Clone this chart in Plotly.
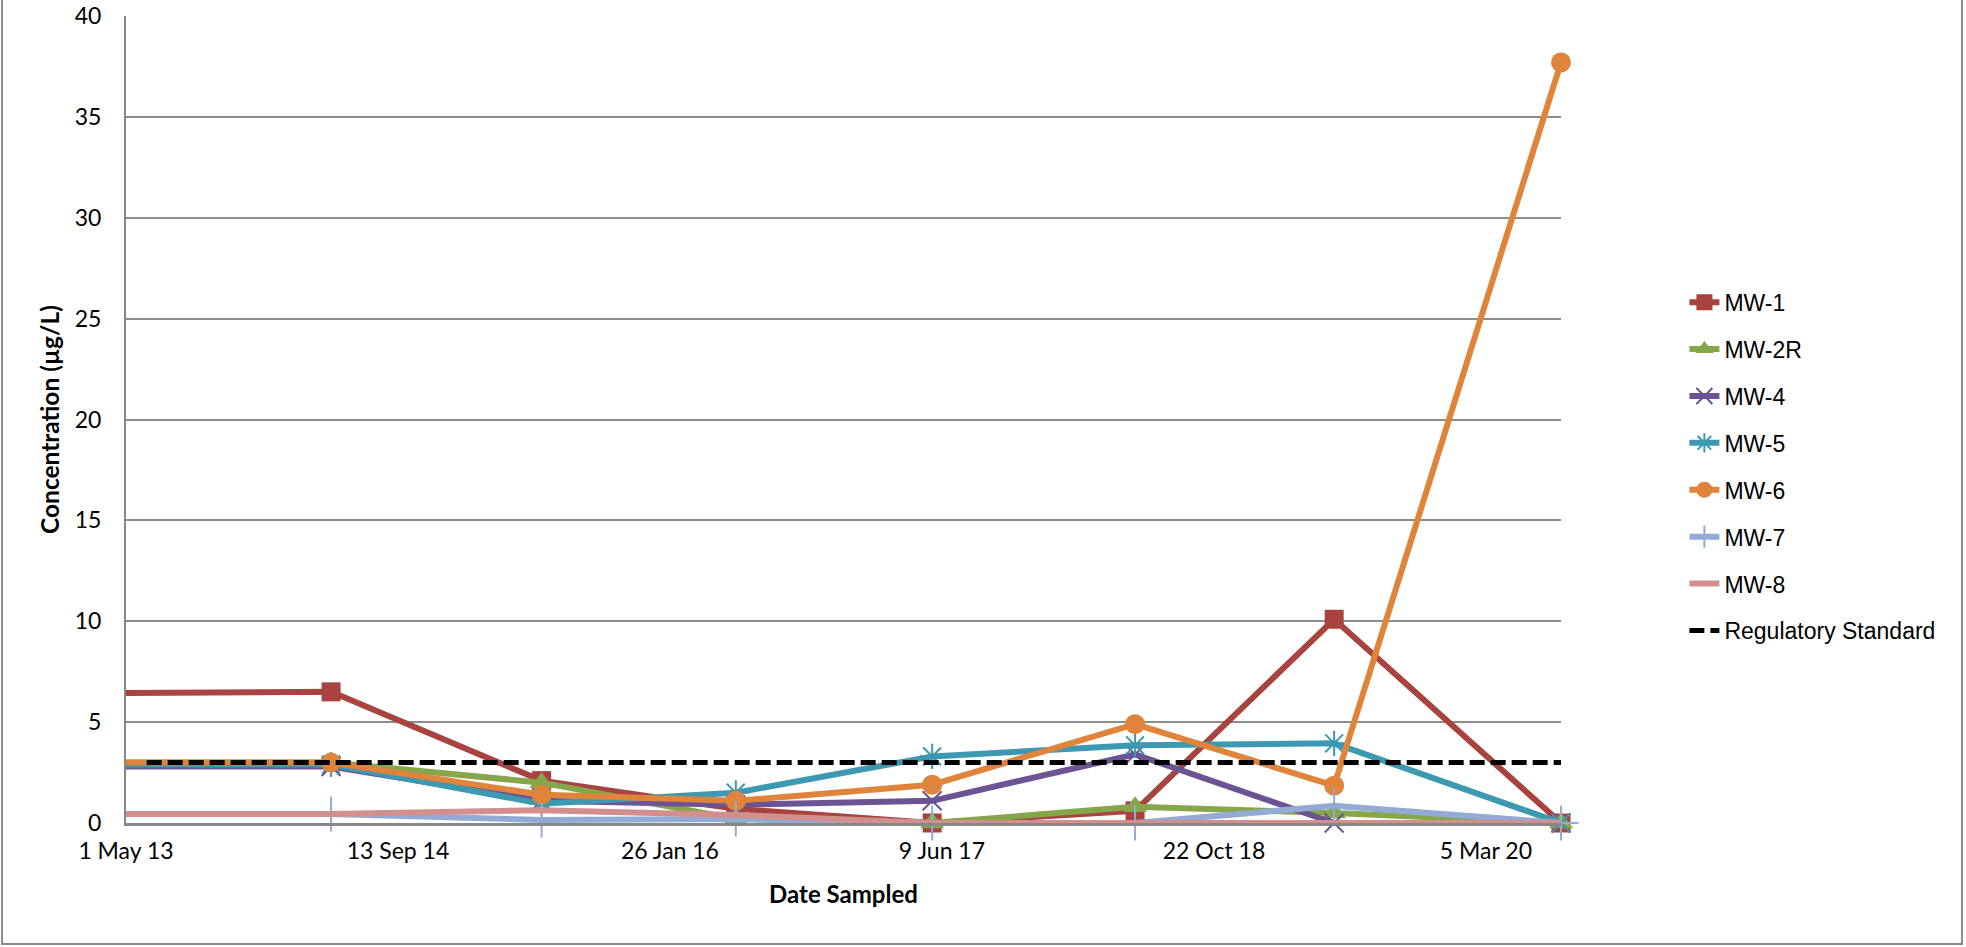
import plotly.graph_objects as go

# Sampling dates (first sample predates the plotted window)
dates = ["2012-05-15", "2014-05-13", "2015-06-04", "2016-05-26",
         "2017-05-22", "2018-05-30", "2019-05-31", "2020-07-21"]

# Concentrations in µg/L per monitoring well
mw1 = [6.4, 6.5, 2.1, 0.7, 0.0, 0.6, 10.1, 0.0]
mw2r = [3.0, 3.0, 2.0, 0.2, 0.0, 0.8, 0.5, 0.0]
mw4 = [2.8, 2.8, 1.1, 0.9, 1.1, 3.4, 0.0, 0.0]
mw5 = [2.9, 2.9, 0.95, 1.5, 3.3, 3.85, 3.95, 0.0]
mw6 = [3.0, 3.0, 1.4, 1.1, 1.9, 4.9, 1.85, 37.7]
mw7 = [0.45, 0.45, 0.15, 0.2, 0.0, 0.0, 0.85, 0.0]
mw8 = [0.45, 0.45, 0.63, 0.4, 0.0, 0.0, 0.0, 0.0]

# Regulatory standard line
std_dates = ["2013-06-08", "2020-07-21"]
std_vals = [3.0, 3.0]

x_range = ["2013-05-01", "2020-07-21"]
y_ticks = [0, 5, 10, 15, 20, 25, 30, 35, 40]

AXIS_FONT = "Lato, 'Open Sans', sans-serif"
LEGEND_FONT = "'Liberation Sans', Arial, sans-serif"

series = [
    ("MW-1", mw1, "#A8433F", dict(symbol="square", size=19)),
    ("MW-2R", mw2r, "#86A64A", dict(symbol="triangle-up", size=21)),
    ("MW-4", mw4, "#6C5394", dict(symbol="x-thin", size=19)),
    ("MW-5", mw5, "#3C99B1", dict(symbol="asterisk", size=21)),
    ("MW-6", mw6, "#DF843A", dict(symbol="circle", size=20)),
    ("MW-7", mw7, "#92ABD4", dict(symbol="cross-thin", size=25)),
    ("MW-8", mw8, "#D38F8E", None),
]

fig = go.Figure()

for name, vals, color, mk in series:
    n = len(vals)
    if mk is None:
        mode = "lines"
        marker = None
    else:
        mode = "lines+markers"
        sizes = [0] + [mk["size"]] * (n - 1)
        thin = mk["symbol"] in ("x-thin", "asterisk", "cross-thin")
        marker = dict(symbol=mk["symbol"], size=sizes, color=color, opacity=1,
                      line=dict(color=color, width=2 if thin else 0))
    fig.add_trace(go.Scatter(
        x=dates, y=vals, name=name, mode=mode,
        line=dict(color=color, width=6),
        marker=marker, cliponaxis=False, legendgroup=name,
    ))

fig.add_trace(go.Scatter(
    x=std_dates, y=std_vals, name="Regulatory Standard", mode="lines",
    line=dict(color="#000000", width=5, dash="15px,6px"),
    legendgroup="std",
))

fig.update_layout(
    width=1966, height=947,
    margin=dict(l=126, r=405, t=16, b=124, autoexpand=False),
    paper_bgcolor="white", plot_bgcolor="white",
    font=dict(family=AXIS_FONT, size=23, color="#000000"),
    showlegend=True,
    legend=dict(
        x=1.086, y=0.672, xanchor="left", yanchor="top",
        font=dict(family=LEGEND_FONT, size=23, color="#000000"),
        tracegroupgap=14, bgcolor="rgba(0,0,0,0)",
    ),
    shapes=[dict(
        type="path", xref="paper", yref="paper",
        path="M -0.0864,1.03 L -0.0864,-0.15 L 1.2794,-0.15 L 1.2794,1.03",
        line=dict(color="#8C8C8C", width=2),
    )],
)

fig.update_xaxes(
    range=x_range, type="date", automargin=False,
    tick0="2013-05-01", dtick=500 * 86400000, tickformat="%-d %b %y",
    showgrid=False, zeroline=False,
    showline=True, linecolor="#878787", linewidth=3,
    ticks="", ticklabelstandoff=5,
    tickfont=dict(family=AXIS_FONT, size=23),
    title=dict(text="<b>Date Sampled</b>", standoff=24,
               font=dict(family=AXIS_FONT, size=24)),
)

fig.update_yaxes(
    range=[0, 40], tickvals=y_ticks, automargin=False,
    showgrid=True, gridcolor="#8C8C8C", gridwidth=2,
    zeroline=False,
    showline=True, linecolor="#878787", linewidth=2,
    ticks="", ticklabelstandoff=18,
    tickfont=dict(family=AXIS_FONT, size=23),
    title=dict(text="<b>Concentration (µg/L)</b>", standoff=8,
               font=dict(family=AXIS_FONT, size=24.5)),
)

fig.write_html("out.html")
